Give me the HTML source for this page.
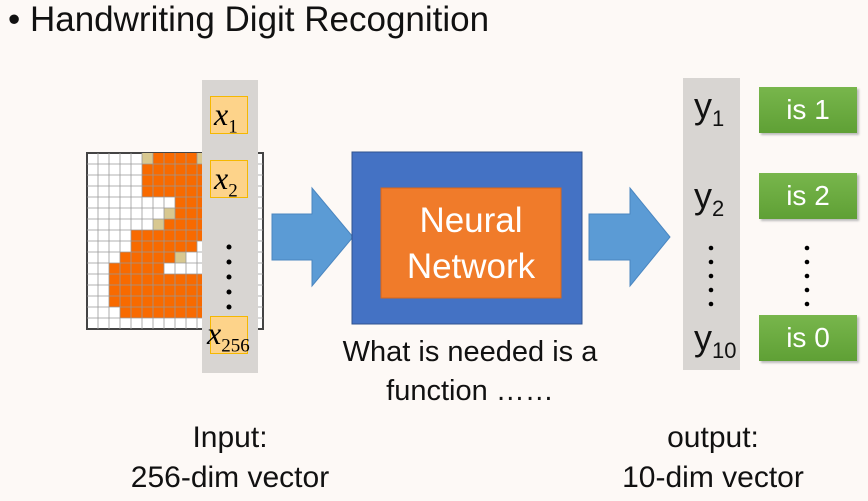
<!DOCTYPE html>
<html><head><meta charset="utf-8"><style>
body{margin:0;width:868px;height:501px;background:#fdf9f6;font-family:"Liberation Sans","DejaVu Sans",sans-serif;position:relative;overflow:hidden}
.a{position:absolute}
.t{font-size:24px;color:#111;text-align:center}
.xb{position:absolute;left:210px;width:38px;background:#fdd38a;border:1px solid #f5b800;box-sizing:border-box;font-family:"Liberation Serif",serif;font-style:italic;font-size:32px;line-height:34px;padding-left:3px}
.xb sub{font-style:normal;font-size:19px}
.g{position:absolute;left:759px;width:98px;height:46px;background:linear-gradient(#78b64c,#5fa035);color:#fff;font-size:28px;line-height:46px;text-align:center;box-shadow:2px 2px 2px #bbb}
.y{position:absolute;left:694px;font-size:36px;color:#111;line-height:40px}
.y sub{font-size:22px;vertical-align:-8px}
</style></head><body>
<div class="a" style="left:8px;top:0px;font-size:35px;color:#111">• Handwriting Digit Recognition</div>
<svg class="a" style="left:0;top:0" width="868" height="501">
<g id="grid"></g>
</svg>
<script>
(function(){
var rows=[[[5,'t'],[6,'o',4],[10,'t']],[[5,'o',6]],[[5,'o',6]],[[5,'o',6]],[[8,'o',3]],[[7,'t'],[8,'o',3]],[[6,'t'],[7,'o',4]],[[4,'o',7]],[[4,'o',6]],[[3,'o',5],[8,'t']],[[2,'o',5]],[[2,'o',9]],[[2,'o',9]],[[2,'o',9]],[[3,'o',8]],[]];
var x0=87,y0=153,c=11,s='<rect x="'+x0+'" y="'+y0+'" width="176" height="176" fill="#fff" stroke="#444" stroke-width="2"/>';
rows.forEach(function(r,i){r.forEach(function(e){var n=e[2]||1;for(var k=0;k<n;k++){s+='<rect x="'+(x0+(e[0]+k)*c)+'" y="'+(y0+i*c)+'" width="'+c+'" height="'+c+'" fill="'+(e[1]=='o'?'#f86a00':'#d8c890')+'"/>';}});});
for(var i=1;i<16;i++){s+='<line x1="'+(x0+i*c)+'" y1="'+y0+'" x2="'+(x0+i*c)+'" y2="'+(y0+176)+'" stroke="#999" stroke-width="0.8"/>';s+='<line x1="'+x0+'" y1="'+(y0+i*c)+'" x2="'+(x0+176)+'" y2="'+(y0+i*c)+'" stroke="#999" stroke-width="0.8"/>';}
s+='<rect x="202" y="80" width="56" height="293" fill="#d8d5d2"/>';
s+='<rect x="683" y="78" width="57" height="292" fill="#d8d5d2"/>';
s+='<polygon points="272,214 312,214 312,188 353,237 312,286 312,260 272,260" fill="#5b9bd5" stroke="#4a86c0"/>';
s+='<polygon points="589,214 630,214 630,188 670,237 630,286 630,260 589,260" fill="#5b9bd5" stroke="#4a86c0"/>';
s+='<rect x="352" y="152" width="230" height="172" fill="#4472c4" stroke="#2f528f"/>';
s+='<rect x="381" y="188" width="180" height="110" fill="#f07b2a" stroke="#d9651a"/>';
[247,262,277,292,307].forEach(function(y){s+='<circle cx="229" cy="'+y+'" r="2.5" fill="#000"/>';});
[248,262,276,290,304].forEach(function(y){s+='<circle cx="711" cy="'+y+'" r="2.3" fill="#000"/>';s+='<circle cx="807" cy="'+y+'" r="2.3" fill="#000"/>';});
document.getElementById('grid').innerHTML=s;
})();
</script>
<div class="xb" style="top:96px;height:38px">x<sub>1</sub></div>
<div class="xb" style="top:160px;height:38px">x<sub>2</sub></div>
<div class="xb" style="top:316px;height:38px;padding-left:0;left:207px;width:62px;background:transparent;border:none"><span style="position:absolute;left:3px;top:0;width:38px;height:38px;background:#fdd38a;border:1px solid #f5b800;box-sizing:border-box"></span><span style="position:relative">x<sub>256</sub></span></div>
<div class="a t" style="left:371px;top:198px;width:200px;color:#fff;font-size:35px;line-height:46px">Neural<br>Network</div>
<div class="a t" style="left:300px;top:333px;width:340px;font-size:29px;line-height:39px">What is needed is a<br>function ……</div>
<div class="a t" style="left:100px;top:418px;width:260px;font-size:30px;line-height:40px">Input:<br>256-dim vector</div>
<div class="a t" style="left:583px;top:418px;width:260px;font-size:30px;line-height:40px">output:<br>10-dim vector</div>
<div class="y" style="top:86px">y<sub>1</sub></div>
<div class="y" style="top:176px">y<sub>2</sub></div>
<div class="y" style="top:318px">y<sub>10</sub></div>
<div class="g" style="top:87px">is 1</div>
<div class="g" style="top:173px">is 2</div>
<div class="g" style="top:315px">is 0</div>
</body></html>
